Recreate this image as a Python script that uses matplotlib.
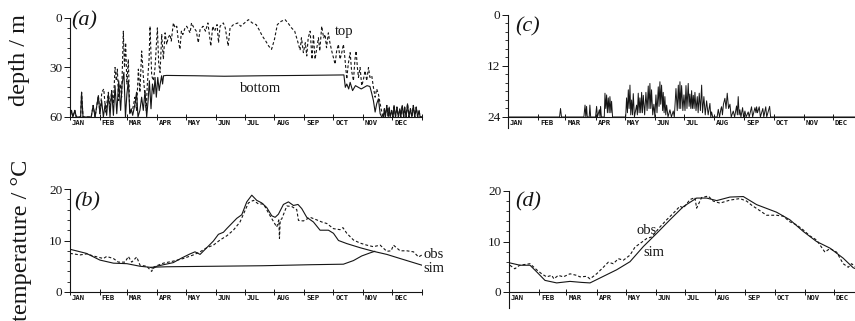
import matplotlib
matplotlib.use('Agg')
import matplotlib.pyplot as plt
from matplotlib.ticker import MultipleLocator

plt.rcParams['font.family'] = 'Liberation Serif'

# ---- axis categories ----
months = ['JAN', 'FEB', 'MAR', 'APR', 'MAY', 'JUN', 'JUL', 'AUG', 'SEP', 'OCT', 'NOV', 'DEC']
month_start = [0, 31, 59, 90, 120, 151, 181, 212, 243, 273, 304, 334]

# ---- (a) thermocline top / bottom depth (m) ----
dec_day = [325, 326, 327, 328.5, 330, 331, 332, 333.5, 335, 336, 337.5, 339, 340.5, 342, 343, 344.5,
           346, 347, 348.5, 350, 351.5, 353, 354.5, 356, 357.5, 359, 360.5, 362, 363, 365]
dec_depth = [60, 55, 60, 53, 60, 54, 60, 56, 60, 53, 60, 54, 60, 55, 60, 53,
             60, 54, 60, 52, 60, 55, 60, 53, 60, 54, 60, 56, 60, 60]

top_day = [0, 1.5, 3, 5, 6.5, 11, 12, 13.5, 22, 24, 26, 29.4, 31, 33, 35, 37, 39.8, 41.5, 43.2, 45,
           46.7, 48, 49.1, 50.5, 52, 53.5, 55.3, 56.5, 57.7, 59, 60.5, 62, 65, 67.4, 69, 70.9, 72.5,
           74.3, 76, 77.8, 79, 80.2, 82, 83, 84.7, 86.5, 88.2, 90.6, 92, 93.4, 95.1, 96.8, 98.6, 100.3,
           101.8, 103.7, 105, 107.2, 109, 110.7, 112, 114, 115.5, 117, 119.3, 121, 124.5, 126, 128.5,
           131, 133, 134.9, 138, 140.5, 143, 146, 148, 150, 152.5, 154, 155.6, 159, 161, 164, 166,
           169.5, 174, 177, 181, 185, 189, 193, 196, 199.5, 203, 206, 209, 212, 215, 219, 223, 226,
           229.7, 233, 236, 238.6, 240, 242, 244, 245.5, 247, 249, 251, 252.4, 254.1, 257.6, 259, 261,
           263, 264.5, 266, 267.9, 269.5, 271.4, 274.9, 276.5, 278.3, 280, 281.8, 283.5, 285, 287,
           288.5, 290.5, 292, 293.9, 295.5, 296.7, 298, 299.1, 300.8, 302.5, 304, 306, 307.7, 309.5,
           311, 312.9, 314.6, 316.4, 318, 319.8, 321.6, 323.3, 324.5] + dec_day
top_depth = [60, 56, 60, 56, 60, 60, 45, 60, 60, 53, 60, 47, 58, 45, 43, 57, 45, 55, 44, 52,
             30, 38, 31, 50, 40, 48, 8, 30, 15, 40, 25, 58, 55, 48, 56, 31, 45,
             20, 35, 48, 56, 40, 25, 5, 35, 38, 30, 6, 28, 33, 10, 25, 9, 16,
             12, 10, 14, 3, 6, 5, 12, 19, 8, 10, 6, 5, 9, 3, 6,
             8, 15, 7, 5, 8, 3, 17, 5, 8, 4, 15, 5, 3, 6, 17, 6,
             4, 3, 5, 3, 1, 3, 4, 7, 11, 14, 17, 19, 13, 4, 2, 1, 3,
             6, 8, 14, 19.5, 12, 21, 15, 23, 12, 8, 25, 10, 25, 12, 20, 5,
             12, 10, 18, 9, 15, 20, 28, 20, 16, 25, 21, 16, 24, 37,
             28, 21, 32, 38, 25, 20, 30, 36, 30, 41, 38, 32, 38, 30,
             36, 35, 42, 48, 43, 46, 52, 57, 60] + dec_depth

bot_day = [0, 1.5, 3, 5, 6.5, 11, 12, 13.5, 22, 24, 26, 29.4, 31, 32.8, 34.6, 36.5, 38, 39.8, 41.5,
           43.2, 45, 46.7, 48.5, 50.5, 52.5, 54, 55.9, 57.5, 59, 60.5, 62, 63.5, 65, 67.4, 69, 70.5,
           72.5, 74.3, 76, 77.8, 79.5, 81, 82.3, 84, 85.5, 87, 88.2, 89.5, 91, 92.5, 93.5, 95, 96, 97,
           100, 130, 160, 200, 240, 284, 285.5, 287, 289, 290.5, 293, 296, 299, 302, 305, 308, 311,
           313, 314.6, 316.4, 318, 319.8, 321.6, 323.3] + dec_day
bot_depth = [60, 56, 60, 56, 60, 60, 45, 60, 60, 53, 60, 47, 58, 50, 60, 52, 59, 46, 60,
             44, 59, 41, 58, 38, 56, 40, 33, 60, 46, 38, 58, 55, 59, 52, 45, 60,
             56, 48, 56, 44, 60, 50, 38, 55, 40, 46, 36, 48, 36, 44, 40, 35, 40, 35,
             34.8, 35, 35.3, 35, 34.8, 34.5, 42, 40, 43, 39, 44, 41, 42, 43, 42, 41, 41.5,
             46, 50, 57, 52, 49, 58, 60] + dec_depth

# ---- (b) temperature (deg C) ----
b_sim_day = [0, 17, 31, 45, 59, 72.6, 83, 86.4, 90, 97, 107, 115.8, 124.5, 129.6, 134.9, 141.8, 148.7,
             153.9, 159.1, 162.5, 167.7, 172.9, 178.1, 183.3, 188.5, 193.6, 198.8, 204, 209.2, 212.7,
             216.1, 221.3, 226.5, 231.7, 236.4, 240.3, 245.5, 252.4, 259.3, 268, 273.2, 278.4, 287,
             300.8, 314.6, 328.5, 342.3, 365]
b_sim_temp = [8.3, 7.5, 6.2, 5.6, 5.5, 5.0, 4.8, 4.6, 5.0, 5.3, 5.7, 6.6, 7.4, 7.8, 7.3, 8.6, 9.9,
              11.2, 11.6, 12.3, 13.3, 14.3, 15.0, 17.5, 18.8, 17.8, 17.3, 16.4, 14.8, 14.5,
              15.1, 17.0, 17.5, 16.8, 17.0, 16.2, 14.5, 13.6, 12.0, 12.0, 11.4, 10.0, 9.4,
              8.6, 7.9, 7.3, 6.5, 5.2]
b_obs_day = [0, 10.4, 17.3, 24.2, 34.6, 38, 45, 50.2, 57.1, 60.5, 64, 69.2, 72.6, 79.5, 84.7, 86.5,
             89.9, 96.8, 107.2, 117.5, 127.9, 134.9, 141.8, 148.7, 155.6, 162.5, 169.4, 176.3, 185,
             190.2, 195.4, 200.6, 207.5, 214.4, 216.5, 217.2, 218, 219.6, 224.8, 229.9, 235.1, 236.9,
             242, 249, 255.9, 261, 266.3, 273.2, 280.1, 283, 287, 293.9, 300.8, 307.7, 314.6, 321.6,
             328.5, 333, 335.4, 342.3, 349.2, 356.2, 361.4, 365]
b_obs_temp = [7.5, 7.2, 7.4, 7.0, 6.5, 6.9, 6.5, 5.8, 5.8, 6.9, 5.8, 6.8, 5.2, 5.0, 4.0, 4.8,
              5.1, 5.6, 6.0, 6.5, 7.2, 7.8, 8.6, 9.1, 10.1, 10.9, 12.0, 13.6, 17.3,
              17.8, 17.1, 17.1, 14.8, 12.6, 14.0, 10.4, 14.0, 14.2, 16.7, 16.6, 16.0, 13.9,
              13.8, 14.5, 14.0, 13.6, 13.3, 12.3, 12.1, 12.5, 11.4, 10.1, 9.5, 9.1, 8.8, 9.1,
              7.9, 8.0, 9.1, 8.0, 8.0, 7.8, 6.8, 7.2]
b_deep_day = [84, 100, 150, 200, 250, 283.5, 293.9, 302.5, 311.2, 316]
b_deep_temp = [4.8, 4.9, 5.0, 5.1, 5.3, 5.4, 6.1, 7.0, 7.6, 7.9]

# ---- (c) mixing depth (m) ----
c_day = [0, 53, 54, 55, 78, 79.2, 80, 80.8, 81.5, 83.5, 84.2, 85, 90, 91.1, 92, 93.9, 94.6, 95.2, 96,
         99, 99.7, 100.5, 101.4, 102.2, 103.1, 104, 104.8, 105.8, 106.5, 107.5, 121, 121.9, 122.8,
         123.7, 124.5, 125.4, 126.2, 127.1, 128, 128.8, 130, 132.2, 133, 133.9, 134.8, 135.6, 136.5,
         137.4, 138.2, 139.1, 140.5, 141.8, 143, 144.2, 145, 145.9, 146.8, 147.6, 148.8, 150, 151,
         152.1, 153.2, 154.5, 155.3, 156.2, 157, 157.9, 159, 159.6, 160.5, 161.3, 162.2, 163.1, 164.5,
         166.5, 168, 169.9, 171, 172.7, 174, 175.1, 176, 176.8, 177.6, 178.5, 179.8, 180.9, 182, 183,
         184, 185.3, 186.2, 187, 188, 188.8, 189.6, 190.5, 191.3, 192.2, 193.3, 194.6, 195.5, 196.6,
         197.8, 199.1, 200, 201.4, 202.8, 204.2, 205.8, 207.6, 208.5, 209.3, 210.5, 215, 216.2, 217.5,
         219, 219.6, 220.5, 221.5, 223, 224.2, 225.4, 226.8, 228.2, 229.5, 231.6, 233, 235, 235.8,
         236.7, 237.6, 238.4, 239.5, 241.2, 242.2, 243.6, 244.8, 247, 248, 250.4, 251.5, 253.9, 255,
         255.6, 256.5, 258.3, 259.5, 262, 263, 265, 266, 269, 270, 365]
c_depth = [24, 24, 22, 24, 24, 21.2, 24, 21.5, 24, 24, 21.2, 24, 24, 21.5, 24, 22.3, 24, 21.5, 24,
           24, 18.4, 22, 18.8, 23, 19.5, 23, 19.2, 23, 20.3, 24, 24, 19.5, 23,
           17.6, 22, 16.5, 23.5, 20, 23.5, 18.5, 24, 21.2, 23.5, 18.4, 23, 19.5, 23,
           18.2, 23, 18.9, 23.5, 18.2, 22.5, 16.7, 22, 16.1, 22, 17.6, 23.5, 21, 24,
           18.8, 23, 16.9, 21.5, 15.7, 21, 16.5, 22.5, 18.2, 23, 19.2, 23.5, 21.2, 24,
           22.3, 24, 22.6, 24, 17.3, 22.5, 16.5, 22, 15.7, 22, 16.6, 22.5, 18.8, 22.5, 16.6,
           22, 16.1, 21.5, 18.6, 22, 17.8, 22, 18.9, 22, 18.2, 22.5, 19.2, 23, 18.4,
           22.5, 16.5, 23, 19.2, 23.5, 20.2, 23.5, 20.8, 24, 22.8, 24, 24, 22.2, 24,
           22, 21.6, 23.5, 21, 19.6, 22, 18.4, 22, 21, 24, 22.6, 24, 21.4, 23.5,
           19.2, 23.5, 22.3, 24, 21.8, 24, 22.6, 24, 22.8, 24, 21.6, 24, 21.8, 23,
           21.6, 23, 21.6, 24, 22, 24, 21.6, 24, 21.5, 24, 24]

# ---- (d) temperature (deg C) ----
d_sim_day = [0, 11.3, 21.6, 28.4, 37, 49, 62.7, 74.7, 83.3, 97, 110.7, 124.4, 138.1, 151.8, 165.5,
             179.2, 192.9, 203.2, 213.5, 227.2, 240.9, 254.6, 275.1, 288.8, 302.5, 316.2, 329.9,
             343.6, 353.9, 365]
d_sim_temp = [5.8, 5.3, 5.3, 4.0, 2.3, 1.8, 2.1, 1.9, 1.8, 3.1, 4.4, 6.0, 9.0, 11.6, 14.3,
              16.9, 18.6, 18.6, 18.1, 18.8, 18.9, 17.3, 15.8, 14.3, 12.0, 10.0, 8.7,
              6.7, 4.8, 4.0]
d_obs_day = [0.9, 6, 11, 21.6, 28.4, 33.6, 38.7, 43.9, 46.2, 50.7, 55.8, 62.7, 69.5, 73, 79.8, 83.3,
             90.1, 97, 102.1, 107.3, 112.4, 117.6, 124.4, 129.6, 134.7, 141.6, 146.7, 155.3, 162.1,
             169, 175.8, 179.2, 186.1, 191.2, 192.9, 198, 204.9, 210, 216.9, 227.2, 237.4, 244.3,
             249.4, 258, 264.8, 275.1, 282, 288.8, 295.7, 302.5, 309.4, 316.2, 324.8, 329.9, 336.8,
             343.6, 348.8, 352.2, 355.6, 365]
d_obs_temp = [5.3, 4.6, 5.3, 5.6, 4.4, 3.6, 3.0, 3.3, 2.6, 3.3, 3.0, 3.6, 3.3, 3.0, 3.1, 2.6,
              3.6, 4.9, 5.9, 5.6, 6.6, 6.3, 7.3, 8.9, 9.6, 10.6, 10.9, 12.9, 14.3,
              15.6, 17.0, 16.6, 18.3, 18.7, 16.6, 18.7, 19.0, 18.0, 17.6, 18.2, 18.5, 18.0,
              17.2, 16.1, 15.2, 15.2, 15.0, 13.9, 13.3, 12.3, 11.1, 10.3, 7.9, 8.6, 7.9,
              5.6, 4.9, 5.6, 5.1, 4.6]

W, H = 855, 321
fig = plt.figure(figsize=(W / 100, H / 100), dpi=100)


def add_ax(left, top, width, bottom):
    return fig.add_axes([left / W, 1 - bottom / H, width / W, (bottom - top) / H])


ax_a = add_ax(70, 18, 352, 117)
ax_b = add_ax(70, 189, 352, 292)
ax_c = add_ax(508, 15, 355, 117)
ax_d = add_ax(509, 191, 355, 292)

ink = '#151515'
dash = (0, (2.6, 1.9))


def style(ax, ylim, yticks, yminor, height_px):
    for s in ['top', 'right']:
        ax.spines[s].set_visible(False)
    for s in ['left', 'bottom']:
        ax.spines[s].set_linewidth(0.8)
        ax.spines[s].set_color(ink)
    ax.set_xlim(0, 365)
    ax.set_ylim(*ylim)
    ax.set_xticks(month_start + [365])
    ax.set_xticklabels([])
    ax.tick_params(axis='x', direction='inout', length=5, width=0.7, color=ink)
    for m, name in zip(month_start, months):
        ax.text(m + 2, -3.5 / height_px, name, transform=ax.get_xaxis_transform(),
                ha='left', va='top', fontsize=5.2, family='DejaVu Sans Mono',
                weight='bold', color=ink)
    ax.set_yticks(yticks)
    ax.yaxis.set_minor_locator(MultipleLocator(yminor))
    ax.tick_params(axis='y', which='major', direction='out', length=4, width=0.7,
                   labelsize=9.5, pad=1.5, color=ink, labelcolor=ink)
    ax.tick_params(axis='y', which='minor', direction='out', length=2.5, width=0.6, color=ink)


style(ax_a, (60, 0), [0, 30, 60], 6, 99)
style(ax_b, (0, 20), [0, 10, 20], 2, 103)
style(ax_c, (24, 0), [0, 12, 24], 2, 102)
style(ax_d, (0, 20), [0, 10, 20], 2, 101)
ax_c.spines['left'].set_bounds(0, 26.6)
ax_d.spines['left'].set_bounds(-3.2, 20)

# (a)
ax_a.plot(top_day, top_depth, color=ink, lw=0.8, linestyle=dash)
ax_a.plot(bot_day, bot_depth, color=ink, lw=0.8)
# (b)
ax_b.plot(b_obs_day, b_obs_temp, color=ink, lw=0.8, linestyle=dash)
ax_b.plot(b_sim_day, b_sim_temp, color=ink, lw=0.8)
ax_b.plot(b_deep_day, b_deep_temp, color=ink, lw=0.8)
# (c)
ax_c.plot(c_day, c_depth, color=ink, lw=0.7)
# (d)
ax_d.plot(d_obs_day, d_obs_temp, color=ink, lw=0.8, linestyle=dash)
ax_d.plot(d_sim_day, d_sim_temp, color=ink, lw=0.8)


# labels
def ftext(x, y, s, **kw):
    fig.text(x / W, 1 - y / H, s, color=ink, **kw)


ftext(19, 60, 'depth / m', rotation=90, ha='center', va='center', fontsize=17.5)
ftext(21, 240, 'temperature / \u00b0C', rotation=90, ha='center', va='center', fontsize=17.5)
ftext(71, 21, '(a)', fontsize=16, style='italic', va='center')
ftext(74, 202, '(b)', fontsize=16, style='italic', va='center')
ftext(515, 27, '(c)', fontsize=16, style='italic', va='center')
ftext(515, 202, '(d)', fontsize=16, style='italic', va='center')
ftext(335, 31, 'top', fontsize=10.5, va='center')
ftext(240, 89, 'bottom', fontsize=10.5, va='center')
ftext(423, 254, 'obs', fontsize=10.5, va='center')
ftext(423, 268, 'sim', fontsize=10.5, va='center')
ftext(636, 230, 'obs', fontsize=10.5, va='center')
ftext(643, 253, 'sim', fontsize=10.5, va='center')

fig.savefig('out.png', dpi=100)
